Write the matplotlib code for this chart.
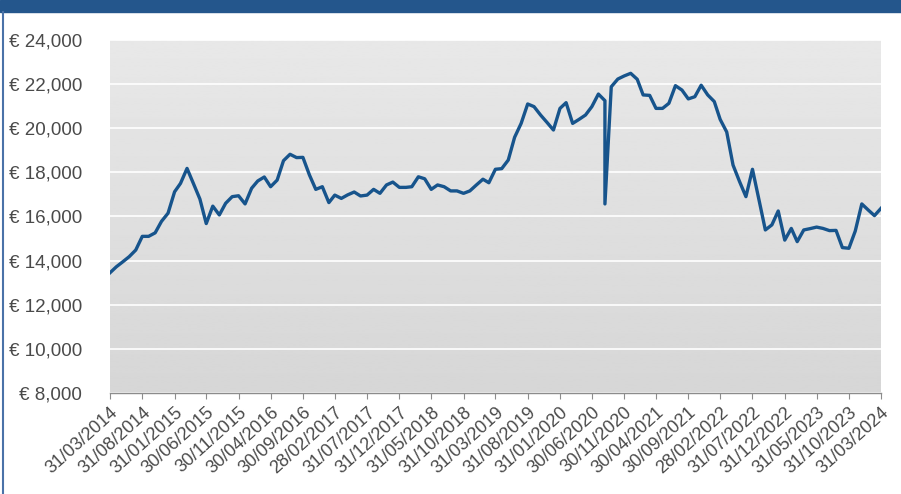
import matplotlib.pyplot as plt
import numpy as np
import pandas as pd

# month-end dates 31/03/2014 .. 31/03/2024, August 2020 appears twice (the spike)
months = list(pd.date_range('2014-03-31', periods=121, freq='ME'))
dates = months[:78] + [months[77]] + months[78:]

values = [13450, 13720, 13950, 14180, 14480, 15100, 15100, 15260, 15780, 16150,
          17120, 17500, 18180, 17500, 16790, 15680, 16470, 16070, 16600, 16900,
          16940, 16570, 17280, 17610, 17790, 17350, 17650, 18530, 18820, 18670,
          18680, 17880, 17230, 17350, 16630, 16970, 16820, 16980, 17110, 16930,
          16970, 17230, 17050, 17430, 17560, 17320, 17320, 17350, 17800, 17710,
          17230, 17430, 17350, 17160, 17160, 17050, 17160, 17430, 17690, 17530,
          18140, 18170, 18560, 19590, 20220, 21100, 20980, 20600, 20270, 19920,
          20900, 21160, 20220, 20400, 20600, 20980, 21550, 21250, 16570, 21880,
          22230, 22370, 22490, 22220, 21510, 21490, 20900, 20900, 21130, 21930,
          21730, 21330, 21430, 21950, 21510, 21210, 20400, 19830, 18330, 17580,
          16900, 18140, 16750, 15390, 15620, 16250, 14930, 15460, 14860, 15390,
          15450, 15520, 15460, 15360, 15370, 14590, 14560, 15340, 16570, 16290,
          16040, 16370]

tick_dates = months[::5]
tick_labels = [d.strftime('%d/%m/%Y') for d in tick_dates]
y_ticks = list(range(8000, 24001, 2000))

plt.rcParams['font.family'] = ['Liberation Sans', 'DejaVu Sans']

fig = plt.figure(figsize=(9.01, 4.94), dpi=100)
fig.patch.set_facecolor('white')

# header bar and left border
fig.patches.append(plt.Rectangle((0, 1 - 12 / 494), 1, 12 / 494, transform=fig.transFigure,
                                 color='#24568c', zorder=0))
fig.lines.append(plt.Line2D([3 / 901, 3 / 901], [0, 1 - 12 / 494], transform=fig.transFigure,
                            color='#4a72a8', lw=1.5))

ax = fig.add_axes([110 / 901, 1 - 393 / 494, 771 / 901, 353 / 494])

# gradient background
grad = np.linspace(0.91, 0.84, 256).reshape(-1, 1)
ax.imshow(grad, cmap='gray', vmin=0, vmax=1, aspect='auto', extent=[0, 1, 0, 1],
          transform=ax.transAxes, zorder=0)

ax.plot(dates, values, color='#17548c', lw=2.4, zorder=3, solid_joinstyle='round')

ax.set_xlim(months[0], months[-1])
ax.set_ylim(8000, 24000)
ax.set_yticks(y_ticks)
ax.set_yticklabels(['€ {:,}'.format(v) for v in y_ticks])
ax.yaxis.grid(True, color='white', lw=1.2, zorder=1)
ax.set_axisbelow(True)

ax.set_xticks(tick_dates)
ax.set_xticklabels(tick_labels, rotation=42, ha='right', va='top', rotation_mode='anchor')

for s in ['top', 'right', 'left']:
    ax.spines[s].set_visible(False)
ax.spines['bottom'].set_color('#8c8c8c')
ax.spines['bottom'].set_linewidth(1)

ax.tick_params(axis='y', length=0, pad=20, labelsize=13.5, labelcolor='#4a4a4a')
ax.tick_params(axis='x', length=4, color='#8c8c8c', pad=4, labelsize=13, labelcolor='#4a4a4a')

plt.savefig('out.png', dpi=100)
